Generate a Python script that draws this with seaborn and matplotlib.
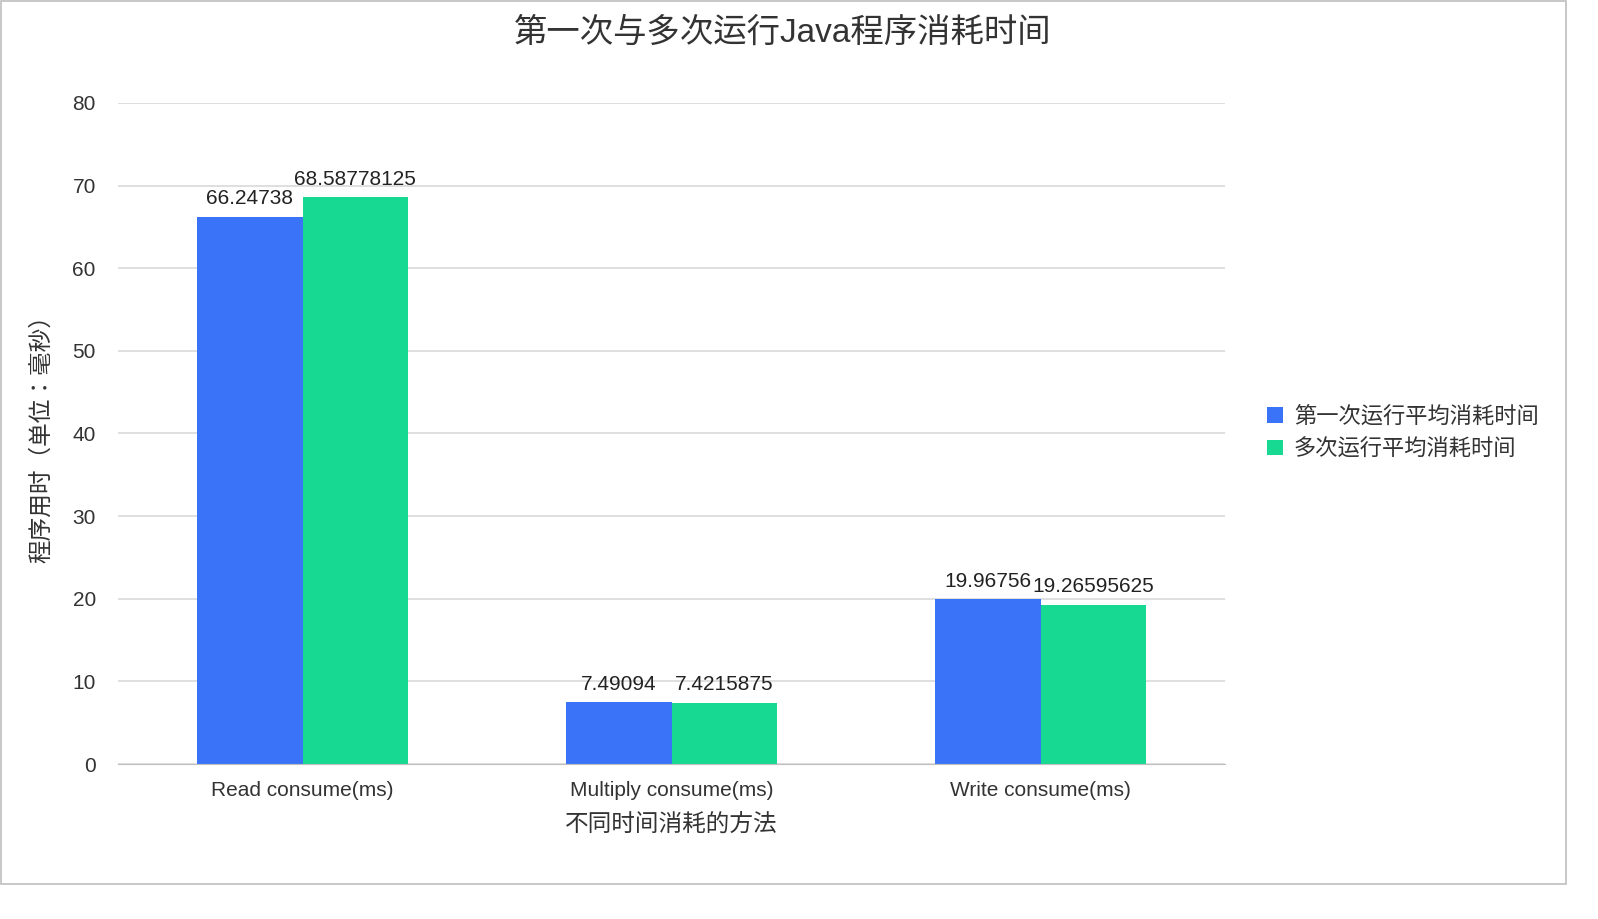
import matplotlib.pyplot as plt
import matplotlib.font_manager as fm
import pandas as pd
import seaborn as sns
from matplotlib.patches import Rectangle

# find a CJK font file and register it explicitly
cjk_name = "Noto Sans CJK SC"
for path in fm.findSystemFonts():
    if "CJK" in path or "cjk" in path.lower():
        fm.fontManager.addfont(path)
        cjk_name = fm.FontProperties(fname=path).get_name()
        if "SC" in cjk_name or "Regular" in path:
            break
plt.rcParams["font.family"] = ["Liberation Sans", cjk_name]

methods = ["Read consume(ms)", "Multiply consume(ms)", "Write consume(ms)"]
series = ["第一次运行平均消耗时间", "多次运行平均消耗时间"]
first_run = [66.24738, 7.49094, 19.96756]
multi_run = [68.58778125, 7.4215875, 19.26595625]
label_text = [["66.24738", "7.49094", "19.96756"],
              ["68.58778125", "7.4215875", "19.26595625"]]

df = pd.DataFrame({
    "method": methods * 2,
    "series": [series[0]] * 3 + [series[1]] * 3,
    "value": first_run + multi_run,
})

W, H = 1598, 919
fig = plt.figure(figsize=(W / 100, H / 100), dpi=100)
ax = fig.add_axes([118 / W, 1 - 764 / H, (1225 - 118) / W, (764 - 103) / H])
fig.patches.append(Rectangle((1 / W, 1 - 884 / H), 1565 / W, 883 / H,
                             transform=fig.transFigure, fill=False,
                             edgecolor="#bfbfbf", linewidth=1.2))

sns.barplot(data=df, x="method", y="value", hue="series", ax=ax,
            palette=["#3b73f8", "#17d992"], width=0.57, saturation=1,
            dodge=True, legend=True)

for cont, labs in zip(ax.containers, label_text):
    ax.bar_label(cont, labels=labs, padding=6, fontsize=15, color="#222222")

ax.set_xlim(-0.5, 2.5)
ax.set_ylim(0, 80)
ax.set_yticks(range(0, 81, 10))
ax.grid(axis="y", color="#d9d9d9", linewidth=1.2)
ax.set_axisbelow(True)
for s in ["top", "right", "left"]:
    ax.spines[s].set_visible(False)
ax.spines["bottom"].set_color("#bfbfbf")
ax.tick_params(axis="both", length=0, labelsize=15, colors="#333333")
ax.tick_params(axis="y", pad=16)
ax.tick_params(axis="x", pad=12)
ax.set_xlabel("不同时间消耗的方法", fontsize=17, color="#333333", labelpad=10)
ax.set_ylabel("程序用时（单位：毫秒）", fontsize=17, color="#333333", labelpad=14)
fig.suptitle("第一次与多次运行Java程序消耗时间", fontsize=24, color="#333333",
             x=783 / W, y=1 - 18 / H, va="top")

ax.legend(loc="center left", bbox_to_anchor=(1.02, 0.5), frameon=False,
          fontsize=16, handlelength=0.7, handleheight=0.7, handletextpad=0.5,
          labelcolor="#333333")

fig.savefig("out.png", dpi=100)
